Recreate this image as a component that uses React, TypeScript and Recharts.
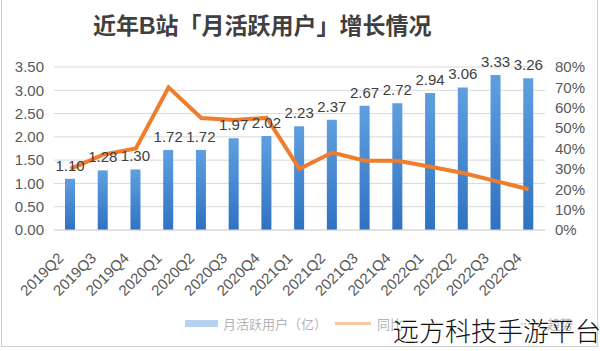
import {
  ComposedChart,
  Bar,
  Line,
  XAxis,
  YAxis,
  CartesianGrid,
  LabelList,
} from 'recharts'

// ─── Data ─────────────────────────────────────────────────────────────────────

const quarters = [
  '2019Q2', '2019Q3', '2019Q4',
  '2020Q1', '2020Q2', '2020Q3', '2020Q4',
  '2021Q1', '2021Q2', '2021Q3', '2021Q4',
  '2022Q1', '2022Q2', '2022Q3', '2022Q4',
]

// 月活跃用户（亿）
const mau = [1.1, 1.28, 1.3, 1.72, 1.72, 1.97, 2.02, 2.23, 2.37, 2.67, 2.72, 2.94, 3.06, 3.33, 3.26]

// 同比 (%)
const yoy = [30, 37, 40, 70, 55, 54, 55, 30, 38, 34, 34, 31, 28, 24, 20]

const leftTicks = [0, 0.5, 1, 1.5, 2, 2.5, 3, 3.5]
const rightTicks = [0, 10, 20, 30, 40, 50, 60, 70, 80]

const data = quarters.map((q, i) => ({ q, mau: mau[i], yoy: yoy[i] }))

// ─── Style ────────────────────────────────────────────────────────────────────

const FONT = '"Liberation Sans", "Noto Sans CJK SC", sans-serif'
const TICK_COLOR = '#595959'

function QuarterTick({ x, y, payload }: { x?: number; y?: number; payload?: { value: string } }) {
  return (
    <text
      transform={`translate(${(x ?? 0) - 6},${(y ?? 0) + 27}) rotate(-45)`}
      textAnchor="end"
      fontSize={15}
      fill={TICK_COLOR}
      fontFamily={FONT}
    >
      {payload?.value}
    </text>
  )
}

// ─── App ──────────────────────────────────────────────────────────────────────

export default function App() {
  return (
    <div
      style={{
        position: 'fixed',
        left: 0,
        top: 0,
        width: 600,
        height: 351,
        background: '#fff',
        fontFamily: FONT,
        overflow: 'hidden',
      }}
    >
      <div
        style={{
          position: 'absolute',
          left: 1,
          top: 0,
          width: 595,
          height: 346,
          border: '1px solid #cfcfcf',
          borderTop: 'none',
        }}
      />
      <div
        style={{
          position: 'absolute',
          left: 93,
          top: 11,
          fontSize: 23,
          fontWeight: 'bold',
          color: '#404040',
          whiteSpace: 'nowrap',
          lineHeight: '30px',
        }}
      >
        近年B站「月活跃用户」增长情况
      </div>

      <div style={{ position: 'absolute', left: 0, top: 0 }}>
        <ComposedChart
          width={600}
          height={351}
          data={data}
          margin={{ top: 67, right: 0, left: 0, bottom: 0 }}
        >
          <defs>
            <linearGradient id="barFill" x1="0" y1="0" x2="0" y2="1">
              <stop offset="0%" stopColor="#5f9fe0" />
              <stop offset="100%" stopColor="#2f72c2" />
            </linearGradient>
          </defs>
          <CartesianGrid yAxisId="left" vertical={false} stroke="#d9d9d9" />
          <XAxis
            dataKey="q"
            height={121}
            interval={0}
            tickLine={false}
            axisLine={{ stroke: '#d9d9d9' }}
            tickSize={0}
            tick={<QuarterTick />}
          />
          <YAxis
            yAxisId="left"
            width={54}
            domain={[0, 3.5]}
            ticks={leftTicks}
            interval={0}
            tickFormatter={(v: number) => v.toFixed(2)}
            axisLine={false}
            tickLine={false}
            tickSize={0}
            tickMargin={10}
            tick={{ fontSize: 15, fill: TICK_COLOR, fontFamily: FONT }}
          />
          <YAxis
            yAxisId="right"
            orientation="right"
            width={55}
            domain={[0, 80]}
            ticks={rightTicks}
            interval={0}
            tickFormatter={(v: number) => `${v}%`}
            axisLine={false}
            tickLine={false}
            tickSize={0}
            tickMargin={10}
            tick={{ fontSize: 15, fill: TICK_COLOR, fontFamily: FONT, textAnchor: 'start' }}
          />
          <Bar
            yAxisId="left"
            dataKey="mau"
            barSize={10}
            fill="url(#barFill)"
            isAnimationActive={false}
          >
            <LabelList
              dataKey="mau"
              position="top"
              offset={8}
              formatter={(v: number) => v.toFixed(2)}
              style={{ fontSize: 15, fill: '#404040', fontFamily: FONT }}
            />
          </Bar>
          <Line
            yAxisId="right"
            dataKey="yoy"
            type="linear"
            stroke="#ef7d2b"
            strokeWidth={4}
            dot={false}
            isAnimationActive={false}
          />
        </ComposedChart>
      </div>

      {/* legend */}
      <div
        style={{
          position: 'absolute',
          left: 185,
          top: 314,
          display: 'flex',
          alignItems: 'center',
          fontSize: 13,
          color: '#b4b4b4',
          whiteSpace: 'nowrap',
        }}
      >
        <span style={{ display: 'inline-block', width: 33, height: 7, background: '#b6d2f0', marginRight: 5 }} />
        <span>月活跃用户（亿）</span>
        <span style={{ display: 'inline-block', width: 36, height: 3, background: '#f8c7a4', margin: '0 6px 0 8px' }} />
        <span>同比</span>
        <span style={{ display: 'inline-block', width: 20, borderTop: '2px dotted #c8d8ea', margin: '0 6px 0 118px' }} />
        <span>趋势</span>
      </div>

      {/* watermark */}
      <div
        style={{
          position: 'absolute',
          left: 393,
          top: 313,
          fontSize: 26,
          color: '#111',
          whiteSpace: 'nowrap',
          lineHeight: '34px',
          fontFamily: '"Noto Sans CJK SC", sans-serif',
          fontWeight: 300,
        }}
      >
        远方科技手游平台
      </div>
    </div>
  )
}
